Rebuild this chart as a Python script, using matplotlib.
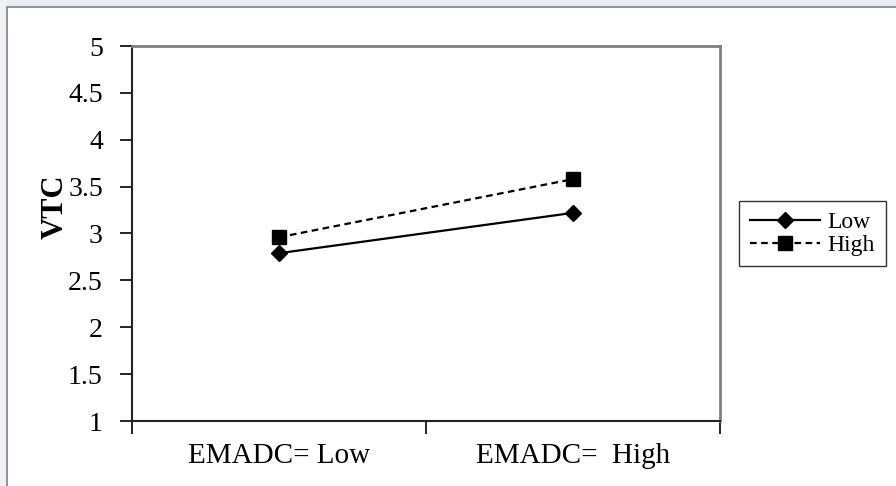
import matplotlib.pyplot as plt
import numpy as np
from matplotlib.patches import Rectangle

# data
categories = ['EMADC= Low', 'EMADC=  High']
low_vals = [2.79, 3.22]
high_vals = [2.96, 3.58]
yticks = [1, 1.5, 2, 2.5, 3, 3.5, 4, 4.5, 5]
ytick_labels = ['1', '1.5', '2', '2.5', '3', '3.5', '4', '4.5', '5']

plt.rcParams['font.family'] = ['Liberation Serif', 'DejaVu Serif']

W, H = 896, 486
fig = plt.figure(figsize=(W / 100, H / 100), dpi=100, facecolor='white')

# faint watermark-ish margin + outer chart border
fig.patches.append(Rectangle((0, 1 - 7 / H), 1, 7 / H, transform=fig.transFigure,
                             facecolor='#e9edf3', edgecolor='none', zorder=-3))
fig.patches.append(Rectangle((0, 0), 7 / W, 1, transform=fig.transFigure,
                             facecolor='#eef1f5', edgecolor='none', zorder=-3))
fig.patches.append(Rectangle((7 / W, -0.05), 1.05, 1 - 7 / H + 0.05, transform=fig.transFigure,
                             facecolor='white', edgecolor='#808080', linewidth=1.2, zorder=-2))

left, right, top, bottom = 132, 720, 46, 421
ax = fig.add_axes([left / W, 1 - bottom / H, (right - left) / W, (bottom - top) / H])
ax.set_zorder(2)
ax.patch.set_alpha(0)

x = np.arange(len(categories))
ax.plot(x, low_vals, color='black', linewidth=1.6, linestyle='-',
        marker='D', markersize=8, label='Low')
ax.plot(x, high_vals, color='black', linewidth=1.6, linestyle=(0, (3, 2)),
        marker='s', markersize=10, label='High')

ax.set_xlim(-0.5, 1.5)
ax.set_ylim(1, 5)
ax.set_yticks(yticks)
ax.set_yticklabels(ytick_labels)
ax.set_xticks([-0.5, 0.5, 1.5])
ax.set_xticklabels([])
ax.set_xticks(x, minor=True)
ax.set_xticklabels(categories, minor=True)
ax.tick_params(axis='x', which='minor', length=0, pad=16, labelsize=21)
ax.tick_params(axis='x', which='major', direction='out', length=9, width=1.2)
ax.tick_params(axis='y', direction='out', length=9, width=1.2, labelsize=20, pad=12)

for s in ['top', 'right']:
    ax.spines[s].set_color('#808080')
    ax.spines[s].set_linewidth(2)
for s in ['left', 'bottom']:
    ax.spines[s].set_color('#222222')
    ax.spines[s].set_linewidth(1.5)

ax.set_ylabel('VTC', fontsize=22, fontweight='bold')
ax.yaxis.set_label_coords((70 - left) / (right - left), (bottom - 207) / (bottom - top))

leg = ax.legend(loc='upper left', bbox_to_anchor=(739 / W, 1 - 201 / H),
                bbox_transform=fig.transFigure, frameon=True, fancybox=False,
                fontsize=17, handlelength=3.0, handletextpad=0.3,
                borderpad=0.45, labelspacing=0.05, borderaxespad=0)
leg.get_frame().set_edgecolor('black')
leg.get_frame().set_linewidth(1)

plt.savefig('out.png', dpi=100, facecolor='white')
